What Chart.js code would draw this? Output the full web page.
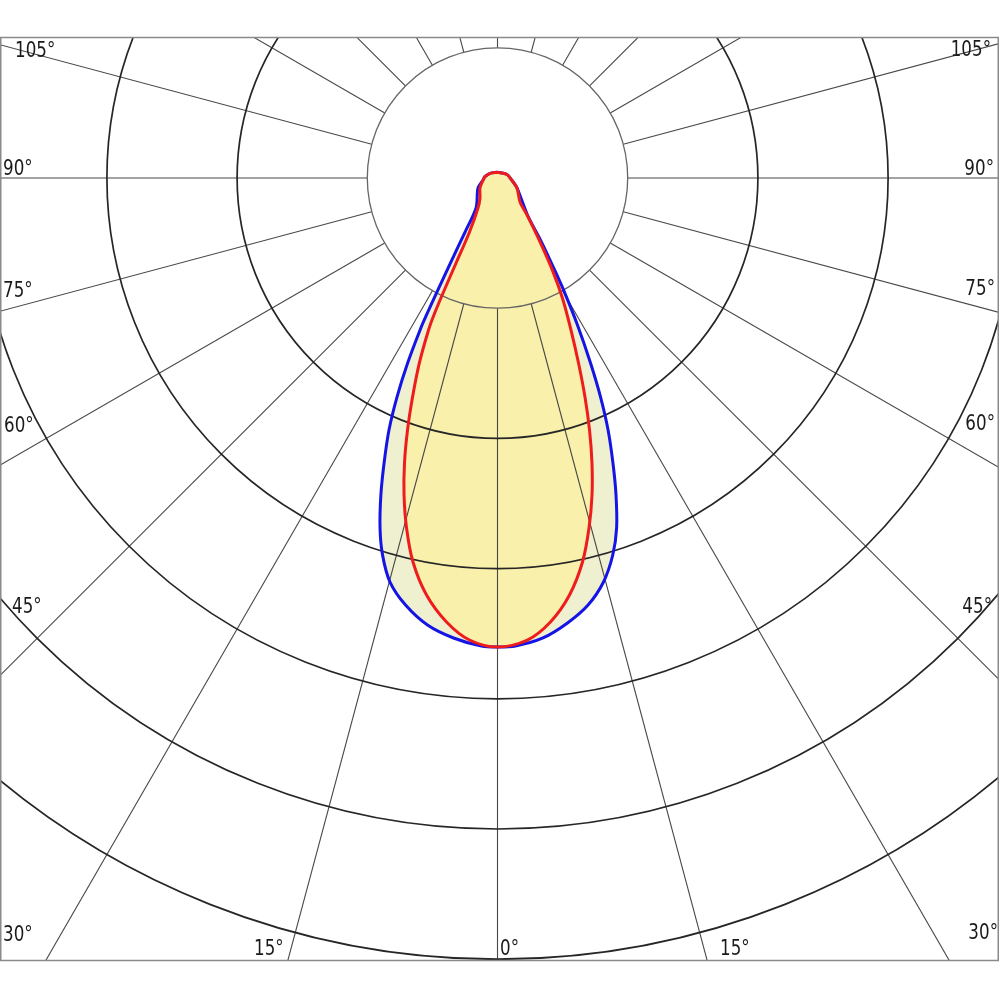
<!DOCTYPE html>
<html>
<head>
<meta charset="utf-8">
<script src="https://cdn.jsdelivr.net/npm/chart.js@4/dist/chart.umd.min.js"></script>
<style>
  html, body { margin: 0; padding: 0; background: #fff; }
  #wrap { width: 1000px; height: 1000px; position: relative; }
</style>
</head>
<body>
<div id="wrap"><canvas id="polar"></canvas></div>
<script>
// angles in degrees from nadir (0 = straight down), negative = left half
// values in the diagram's intensity units (one ring = 100)
var redAngles = [-180, -122, -96, -82, -60.3, -41.2, -33, -27.4, -26, -25.35, -24.9, -24.4, -22.9, -21.2, -19.65, -18.07, -16.43, -14.57, -12.41, -9.66, -6.55, -3.47,
  0, 3.7, 6.8, 9.8, 12.48, 14.65, 16.6, 18.34, 20.06, 21.78, 23.65, 25.8, 28.4, 30.6, 33.6, 38.6, 43.2, 62.9, 82, 112, 180];
var redValues = [4.4, 6.8, 9.7, 11.2, 15.5, 20.4, 27.5, 46.7, 71.8, 96.9, 116, 128.2, 154.2, 180.4, 205.5, 230.3, 253.8, 277.7, 302, 324.9, 343.2, 355.5,
  360.2, 355.6, 343.4, 325, 302.1, 277.9, 254.1, 230.6, 206.1, 181.1, 155.1, 129.7, 104.8, 83.8, 59, 36.3, 25.3, 16.8, 11, 7.6, 4.4];

var blueAngles = [-180, -122, -96, -82, -63, -35.6, -31, -29, -27.95, -27.4, -27, -25.9, -24.65, -23.3, -21.7, -20.2, -18.55, -16.95, -14.9, -12.15, -8.9, -5.46, -1.96,
  0, 2.2, 5.65, 8.94, 11.97, 14.7, 17, 18.8, 20.5, 22.05, 23.7, 25.2, 26.7, 28.55, 30.4, 31.7, 34.5, 39, 62.9, 82, 112, 180];
var blueValues = [4.4, 6.8, 9.7, 11.2, 16.8, 28.3, 48.4, 73.7, 99.1, 118.5, 131, 158, 185.1, 210.7, 235.6, 259.4, 283.6, 302.8, 321.1, 335.5, 347.5, 354.9, 359.7,
  360.2, 359.7, 355, 346, 335.3, 320.8, 302.8, 283.9, 259.9, 236.2, 211.3, 185.9, 159, 128.5, 101.6, 84.8, 59.7, 36.6, 16.8, 11, 7.6, 4.4];

var ringValues = [100, 200, 300, 400, 500, 600];
var spokeAngles = [0, 15, 30, 45, 60, 75, 90, 105, 120, 135, 150, 165, 180, 195, 210, 225, 240, 255, 270, 285, 300, 315, 330, 345];
var sideLabels = ['105°', '90°', '75°', '60°', '45°', '30°'];
var bottomLabels = ['15°', '0°', '15°'];

// layout (pixels)
var frame = { left: 0, top: 37, right: 998, bottom: 960 };
var centerPx = { x: 497.5, y: 178 };
var ringPx = 130.2;
var sideLabelY = [[57, 56], [175, 175], [297, 295], [432, 430], [613, 613], [941, 939]];
var sideLabelX = [[15, 991], [3, 994], [3, 995], [4, 995], [12, 992], [3, 998]];
var bottomLabelX = [254, 500, 720];
var bottomLabelY = 955;

function toXY(angles, values) {
  return angles.map(function (a, i) {
    var t = a * Math.PI / 180;
    return { x: values[i] * Math.sin(t), y: -values[i] * Math.cos(t) };
  });
}

var unitPx = ringPx / 100;

var polarGrid = {
  id: 'polarGrid',
  beforeDatasetsDraw: function (chart) {
    var ctx = chart.ctx, xs = chart.scales.x, ys = chart.scales.y, area = chart.chartArea;
    var cx = xs.getPixelForValue(0), cy = ys.getPixelForValue(0);
    var k = xs.getPixelForValue(100) - cx;
    ctx.save();
    ctx.beginPath();
    ctx.rect(area.left, area.top, area.right - area.left, area.bottom - area.top);
    ctx.clip();
    var r0 = k * ringValues[0] / 100;
    ctx.strokeStyle = '#484848';
    ctx.lineWidth = 1.1;
    spokeAngles.forEach(function (a) {
      var t = a * Math.PI / 180;
      ctx.beginPath();
      ctx.moveTo(cx + r0 * Math.sin(t), cy + r0 * Math.cos(t));
      ctx.lineTo(cx + 2000 * Math.sin(t), cy + 2000 * Math.cos(t));
      ctx.stroke();
    });
    ringValues.forEach(function (v, i) {
      ctx.beginPath();
      ctx.strokeStyle = i === 0 ? '#666' : '#262626';
      ctx.lineWidth = i === 0 ? 1.3 : 1.7;
      ctx.arc(cx, cy, k * v / 100, 0, Math.PI * 2);
      ctx.stroke();
    });
    ctx.restore();
  },
  afterDraw: function (chart) {
    var ctx = chart.ctx, area = chart.chartArea;
    ctx.save();
    ctx.strokeStyle = '#8a8a8a';
    ctx.lineWidth = 1.5;
    ctx.strokeRect(area.left + 0.75, area.top + 0.5, area.right - area.left - 0.5, area.bottom - area.top);
    ctx.fillStyle = '#1a1a1a';
    ctx.font = '22px "DejaVu Sans", sans-serif';
    function put(txt, x, y, align) {
      ctx.save();
      ctx.translate(x, y);
      ctx.scale(0.76, 1);
      ctx.textAlign = align;
      ctx.textBaseline = 'alphabetic';
      ctx.fillText(txt, 0, 0);
      ctx.restore();
    }
    sideLabels.forEach(function (txt, i) {
      put(txt, sideLabelX[i][0], sideLabelY[i][0], 'left');
      put(txt, sideLabelX[i][1], sideLabelY[i][1], 'right');
    });
    bottomLabels.forEach(function (txt, i) {
      put(txt, bottomLabelX[i], bottomLabelY, 'left');
    });
    ctx.restore();
  }
};

new Chart(document.getElementById('polar'), {
  type: 'scatter',
  data: {
    datasets: [
      {
        label: 'C90-C270',
        data: toXY(redAngles, redValues),
        showLine: true,
        borderColor: '#ee1c1c',
        backgroundColor: '#f9f0ab',
        borderWidth: 3,
        pointRadius: 0,
        tension: 0.3,
        fill: 'shape'
      },
      {
        label: 'C0-C180',
        data: toXY(blueAngles, blueValues),
        showLine: true,
        borderColor: '#1414e6',
        backgroundColor: '#eff0cf',
        borderWidth: 3,
        pointRadius: 0,
        tension: 0.3,
        fill: 'shape'
      }
    ]
  },
  options: {
    responsive: true,
    maintainAspectRatio: false,
    animation: false,
    layout: { padding: { left: frame.left, top: frame.top, right: 1000 - frame.right, bottom: 1000 - frame.bottom } },
    scales: {
      x: { type: 'linear', display: false, min: (frame.left - centerPx.x) / unitPx, max: (frame.right - centerPx.x) / unitPx },
      y: { type: 'linear', display: false, min: -(frame.bottom - centerPx.y) / unitPx, max: (centerPx.y - frame.top) / unitPx }
    },
    plugins: {
      legend: { display: false },
      tooltip: { enabled: false },
      filler: { drawTime: 'beforeDraw' }
    }
  },
  plugins: [polarGrid]
});
</script>
</body>
</html>
